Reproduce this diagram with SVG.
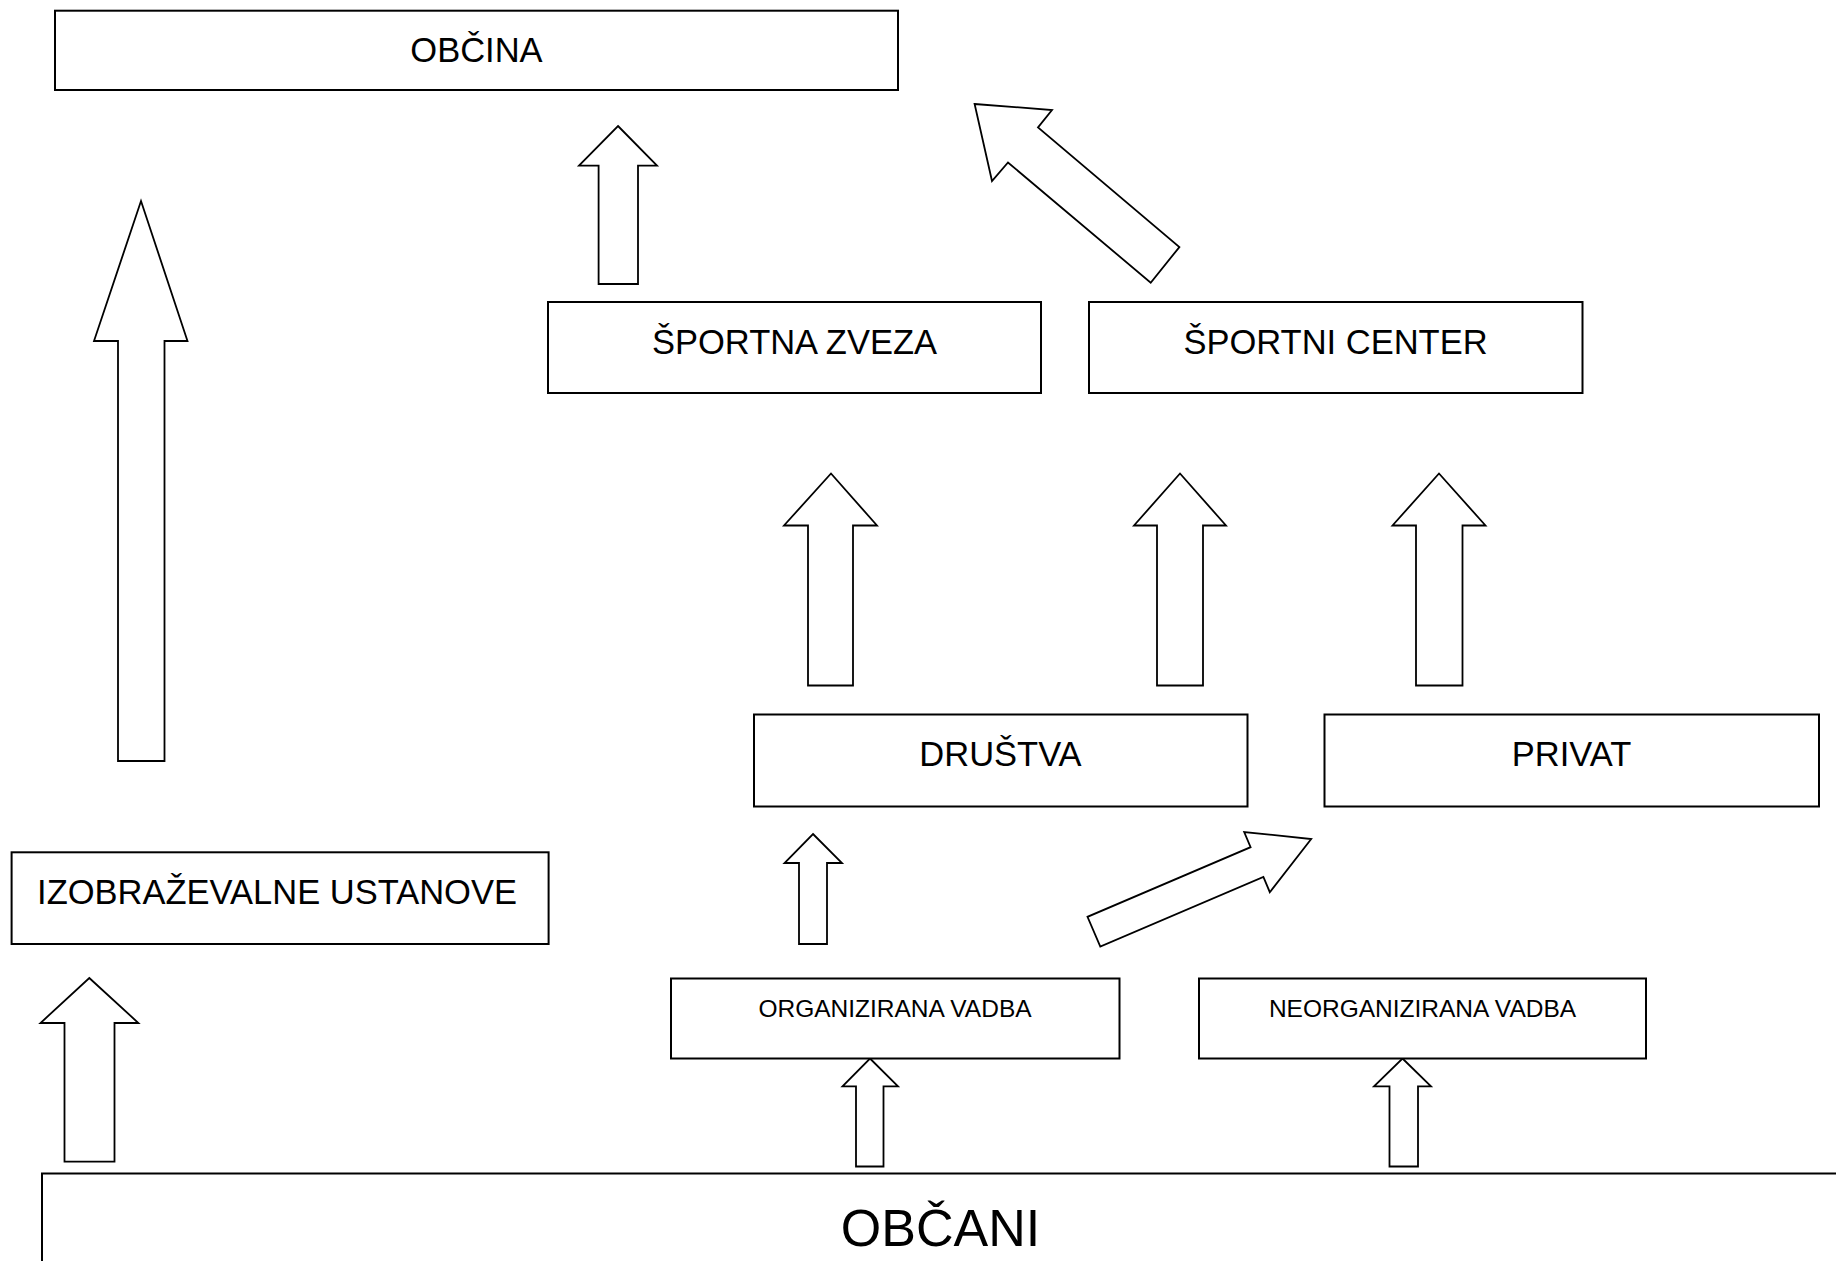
<svg xmlns="http://www.w3.org/2000/svg" width="1836" height="1261" viewBox="0 0 1836 1261">
<style>
.box{fill:#fff;stroke:#000;stroke-width:2}
.arr{fill:#fff;stroke:#000;stroke-width:1.8;stroke-linejoin:miter}
.t{font-family:"Liberation Sans",Arial,sans-serif;fill:#000;text-anchor:middle}
.m{font-size:34.5px}
.s{font-size:24.5px}
.l{font-size:52px}
</style>
<rect width="1836" height="1261" fill="#fff"/>
<g id="connectors">
<polygon class="arr" points="141,201 187.5,341 164.5,341 164.5,761 118,761 118,341 94,341"/>
<polygon class="arr" points="618,126 657,165.7 638,165.7 638,284 598.6,284 598.6,165.7 579,165.7"/>
<polygon class="arr" points="974.6,104 1052,110 1038,127.5 1179.4,247 1150.7,282.7 1008,162.5 992,181"/>
<polygon class="arr" points="831,473.5 877,525.5 853,525.5 853,685.5 808,685.5 808,525.5 784,525.5"/>
<polygon class="arr" points="1180,473.5 1226,525.5 1203,525.5 1203,685.5 1157,685.5 1157,525.5 1134,525.5"/>
<polygon class="arr" points="1439,473.5 1485.5,525.5 1462.5,525.5 1462.5,685.5 1416,685.5 1416,525.5 1392.5,525.5"/>
<polygon class="arr" points="813,834 842,863 827,863 827,944 799,944 799,863 784.5,863"/>
<polygon class="arr" points="1311.2,839 1269.8,892.2 1263.4,877 1100.3,946.6 1087.5,916.8 1250.6,847.2 1244.2,832"/>
<polygon class="arr" points="89.3,978 138.4,1023 114.5,1023 114.5,1161.7 64.5,1161.7 64.5,1023 40.5,1023"/>
<polygon class="arr" points="870,1058.5 898,1086.3 883.5,1086.3 883.5,1166.5 856,1166.5 856,1086.3 842.5,1086.3"/>
<polygon class="arr" points="1402.5,1058.5 1431,1086.3 1418,1086.3 1418,1166.5 1389.5,1166.5 1389.5,1086.3 1374,1086.3"/>
</g>
<g id="obcina"><rect class="box" x="55" y="10.7" width="843" height="79.3"/><text class="t m" x="476.5" y="62">OBČINA</text></g>
<g id="sportna-zveza"><rect class="box" x="548" y="302" width="493" height="91"/><text class="t m" x="794.5" y="354">ŠPORTNA ZVEZA</text></g>
<g id="sportni-center"><rect class="box" x="1089" y="302" width="493.5" height="91"/><text class="t m" x="1335.5" y="354">ŠPORTNI CENTER</text></g>
<g id="drustva"><rect class="box" x="754" y="714.5" width="493.5" height="92"/><text class="t m" x="1000.5" y="765.5">DRUŠTVA</text></g>
<g id="privat"><rect class="box" x="1324.5" y="714.5" width="494.5" height="92"/><text class="t m" x="1571.5" y="765.5">PRIVAT</text></g>
<g id="izobrazevalne"><rect class="box" x="11.6" y="852.3" width="537" height="91.7"/><text class="t m" x="277" y="903.5">IZOBRAŽEVALNE USTANOVE</text></g>
<g id="organizirana"><rect class="box" x="671" y="978.5" width="448.5" height="80"/><text class="t s" x="895" y="1017">ORGANIZIRANA VADBA</text></g>
<g id="neorganizirana"><rect class="box" x="1199" y="978.5" width="447" height="80"/><text class="t s" x="1422.5" y="1017">NEORGANIZIRANA VADBA</text></g>
<g id="obcani"><rect class="box" x="42" y="1173.5" width="1850" height="150"/><text class="t l" x="940.5" y="1246">OBČANI</text></g>
</svg>
